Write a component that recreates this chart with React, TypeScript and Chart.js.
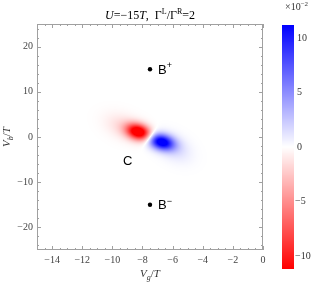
import React, { useEffect, useRef } from 'react';
import { Chart, registerables } from 'chart.js';
Chart.register(...registerables);

// ---- axes ----
const xMin = -15;
const xMax = 0;
const yMin = -25;
const yMax = 25;
const xMajorTicks = [-14, -12, -10, -8, -6, -4, -2, 0];
const xMinorTicks = [-15, -14.5, -13.5, -13, -12.5, -11.5, -11, -10.5, -9.5, -9, -8.5, -7.5, -7, -6.5, -5.5, -5, -4.5, -3.5, -3, -2.5, -1.5, -1, -0.5];
const yMajorTicks = [-20, -10, 0, 10, 20];
const yMinorTicks = [-24, -22, -18, -16, -14, -12, -8, -6, -4, -2, 2, 4, 6, 8, 12, 14, 16, 18, 22, 24];

// ---- colour bar (values in units of 10^-2) ----
const colorMin = -11.2;
const colorMax = 11.2;
const colorTicks = [10, 5, 0, -5, -10];

// ---- density blobs (amplitude in units of 10^-2) ----
const blobX = [-8.25, -6.75, -9.2, -5.9];
const blobY = [1.1, -1.1, 2.2, -2.4];
const blobAmp = [-14, 12.5, -1.6, 1.6];
const blobSx = [0.55, 0.58, 0.85, 0.75];
const blobSy = [1.25, 1.25, 2.0, 2.1];
const blobRho = [-0.25, -0.25, -0.35, -0.35];

// ---- markers and labels ----
const markerX = [-7.5, -7.5];
const markerY = [15, -15];
const labelText = ['B', 'B', 'C'];
const labelSup = ['+', '\u2212', ''];
const labelX = [-6.97, -6.97, -9.29];
const labelY = [15, -15, -5.2];

const SERIF = '"Liberation Serif", "Times New Roman", serif';
const SANS = '"Liberation Sans", Arial, sans-serif';

function colorOf(v: number): [number, number, number] {
  let t = Math.abs(v) / colorMax;
  if (t > 1) t = 1;
  const c = Math.round(255 * (1 - t));
  return v >= 0 ? [c, c, 255] : [255, c, c];
}

const fmt = (v: number) => (v < 0 ? '\u2212' + Math.abs(v) : String(v));

type Part = { t: string; i?: boolean; sup?: boolean; sub?: boolean };

function drawRich(ctx: CanvasRenderingContext2D, parts: Part[], x: number, y: number, size: number, align: 'left' | 'center', family = SERIF) {
  const fontOf = (p: Part) => {
    const sz = p.sup || p.sub ? Math.round(size * 0.7) : size;
    return `${p.i ? 'italic ' : ''}${sz}px ${family}`;
  };
  let total = 0;
  const widths = parts.map((p) => {
    ctx.font = fontOf(p);
    const w = ctx.measureText(p.t).width;
    total += w;
    return w;
  });
  let cx = align === 'center' ? x - total / 2 : x;
  ctx.textAlign = 'left';
  ctx.textBaseline = 'alphabetic';
  parts.forEach((p, k) => {
    ctx.font = fontOf(p);
    const dy = p.sup ? -size * 0.42 : p.sub ? size * 0.25 : 0;
    ctx.fillText(p.t, cx, y + dy);
    cx += widths[k];
  });
}

const fieldPlugin = {
  id: 'field',
  beforeDatasetsDraw(chart: any) {
    const { ctx, chartArea: a, scales } = chart;
    const x0 = Math.round(a.left), y0 = Math.round(a.top);
    const w = Math.round(a.right) - x0, h = Math.round(a.bottom) - y0;
    const img = ctx.createImageData(w, h);
    for (let j = 0; j < h; j++) {
      const yv = scales.y.getValueForPixel(y0 + j + 0.5);
      for (let i = 0; i < w; i++) {
        const xv = scales.x.getValueForPixel(x0 + i + 0.5);
        let v = 0;
        for (let k = 0; k < blobX.length; k++) {
          const dx = (xv - blobX[k]) / blobSx[k];
          const dy = (yv - blobY[k]) / blobSy[k];
          const r = blobRho[k];
          const q = (dx * dx - 2 * r * dx * dy + dy * dy) / (1 - r * r);
          v += blobAmp[k] * Math.exp(-0.5 * q);
        }
        const [R, G, B] = colorOf(v);
        const o = (j * w + i) * 4;
        img.data[o] = R;
        img.data[o + 1] = G;
        img.data[o + 2] = B;
        img.data[o + 3] = 255;
      }
    }
    ctx.putImageData(img, x0, y0);
  },
};

const decorPlugin = {
  id: 'decor',
  afterDraw(chart: any) {
    const { ctx, chartArea: a, scales } = chart;
    const L = Math.round(a.left), R = Math.round(a.right), T = Math.round(a.top), B = Math.round(a.bottom);
    ctx.save();
    // frame
    ctx.strokeStyle = '#a0a0a0';
    ctx.lineWidth = 1;
    ctx.strokeRect(L + 0.5, T + 0.5, R - L - 1, B - T - 1);
    const tick = (vals: number[], len: number) => {
      ctx.beginPath();
      vals.forEach((v) => {
        const px = Math.round(scales.x.getPixelForValue(v)) + 0.5;
        ctx.moveTo(px, B); ctx.lineTo(px, B - len);
        ctx.moveTo(px, T); ctx.lineTo(px, T + len);
      });
      ctx.stroke();
    };
    const tickY = (vals: number[], len: number) => {
      ctx.beginPath();
      vals.forEach((v) => {
        const py = Math.round(scales.y.getPixelForValue(v)) + 0.5;
        ctx.moveTo(L, py); ctx.lineTo(L + len, py);
        ctx.moveTo(R, py); ctx.lineTo(R - len, py);
      });
      ctx.stroke();
    };
    tick(xMajorTicks, 4); tick(xMinorTicks, 2);
    tickY(yMajorTicks, 4); tickY(yMinorTicks, 2);

    // labels in the plot
    ctx.fillStyle = '#000';
    labelText.forEach((t, k) => {
      const px = scales.x.getPixelForValue(labelX[k]);
      const py = scales.y.getPixelForValue(labelY[k]);
      const parts: Part[] = [{ t }];
      if (labelSup[k]) parts.push({ t: labelSup[k], sup: true });
      drawRich(ctx, parts, px, py + 4.5, 13, 'left', SANS);
    });

    // title
    ctx.fillStyle = '#000';
    drawRich(ctx, [
      { t: 'U', i: true }, { t: '=\u221215' }, { t: 'T', i: true }, { t: ',  \u0393' }, { t: 'L', sup: true },
      { t: '/\u0393' }, { t: 'R', sup: true }, { t: '=2' },
    ], (L + R) / 2, 19, 12, 'center');

    // axis titles
    ctx.fillStyle = '#333';
    drawRich(ctx, [{ t: 'V', i: true }, { t: 'g', sub: true, i: true }, { t: '/' }, { t: 'T', i: true }], (L + R) / 2, 277, 11, 'center');
    ctx.save();
    ctx.translate(10, (T + B) / 2);
    ctx.rotate(-Math.PI / 2);
    drawRich(ctx, [{ t: 'V', i: true }, { t: 'b', sub: true, i: true }, { t: '/' }, { t: 'T', i: true }], 0, 0, 11, 'center');
    ctx.restore();

    // colour bar
    const cbL = 282, cbR = 294, cbT = 25, cbB = 269;
    const valToY = (v: number) => cbT + ((colorMax - v) / (colorMax - colorMin)) * (cbB - cbT);
    for (let y = cbT; y < cbB; y++) {
      const v = colorMax - ((y + 0.5 - cbT) / (cbB - cbT)) * (colorMax - colorMin);
      const [r, g, b] = colorOf(v);
      ctx.fillStyle = `rgb(${r},${g},${b})`;
      ctx.fillRect(cbL, y, cbR - cbL, 1);
    }
    ctx.fillStyle = '#333';
    ctx.font = `10px ${SERIF}`;
    ctx.textAlign = 'left';
    ctx.textBaseline = 'middle';
    colorTicks.forEach((v) => {
      ctx.fillText(fmt(v), v < 0 ? 295 : 297, valToY(v));
    });
    drawRich(ctx, [{ t: '\u00d710' }, { t: '\u22122', sup: true }], 285, 10, 10, 'left');
    ctx.restore();
  },
};

export default function App() {
  const ref = useRef<HTMLCanvasElement>(null);
  useEffect(() => {
    document.body.style.margin = '0';
    const chart = new Chart(ref.current as HTMLCanvasElement, {
      type: 'scatter',
      data: {
        datasets: [{
          data: markerX.map((x, i) => ({ x, y: markerY[i] })),
          backgroundColor: '#000',
          borderColor: '#000',
          pointRadius: 2.2,
          pointHoverRadius: 2.2,
          borderWidth: 0,
        }],
      },
      options: {
        animation: false,
        responsive: false,
        maintainAspectRatio: false,
        events: [],
        layout: { padding: { top: 24, right: 61, bottom: 0, left: 0 } },
        plugins: { legend: { display: false }, tooltip: { enabled: false }, title: { display: false } },
        scales: {
          x: {
            type: 'linear', min: xMin, max: xMax,
            grid: { display: false, drawTicks: false },
            border: { display: false },
            afterBuildTicks: (s: any) => { s.ticks = xMajorTicks.map((v) => ({ value: v })); },
            afterFit: (s: any) => { s.height = 43; },
            ticks: { callback: (v: any) => fmt(Number(v)), font: { family: SERIF, size: 10 }, color: '#444', padding: 4, maxRotation: 0, autoSkip: false },
          },
          y: {
            type: 'linear', min: yMin, max: yMax,
            grid: { display: false, drawTicks: false },
            border: { display: false },
            afterBuildTicks: (s: any) => { s.ticks = yMajorTicks.map((v) => ({ value: v })); },
            afterFit: (s: any) => { s.width = 37; },
            ticks: { callback: (v: any) => fmt(Number(v)), font: { family: SERIF, size: 10 }, color: '#444', padding: 4, autoSkip: false },
          },
        },
      } as any,
      plugins: [fieldPlugin, decorPlugin],
    });
    return () => chart.destroy();
  }, []);
  return (
    <div style={{ position: 'fixed', left: 0, top: 0, width: 324, height: 293, background: '#fff' }}>
      <canvas ref={ref} width={324} height={293} style={{ width: 324, height: 293 }} />
    </div>
  );
}
